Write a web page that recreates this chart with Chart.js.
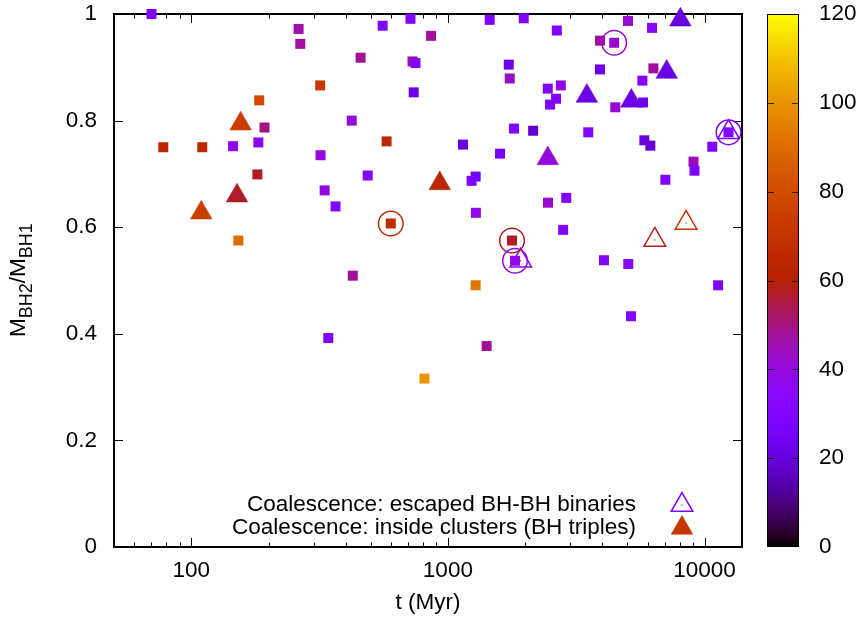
<!DOCTYPE html>
<html><head><meta charset="utf-8">
<script src="https://cdn.jsdelivr.net/npm/chart.js@4.4.1/dist/chart.umd.min.js"></script>
<style>html,body{margin:0;padding:0;background:#fff}#wrap{width:858px;height:621px}</style>
</head><body><div id="wrap"><canvas id="c" width="858" height="621"></canvas></div>
<script>
// ---- data: squares (all binaries), t in Myr, q = M_BH2/M_BH1, colour value
const sqT = [70,262,266,457,557,715,860,728,748,318,184,736,193,77.8,110.4,145.5,182.6,422,577,319,487,181,331,365,599,152.6,426,
  1455,1975,2658,5034,6246,3917,4447,1727,1742,3914,6322,5727,2451,2755,2640,2501,5760,4490,1811,2149,3524,12406,10720,1145,5830,6152,1597,9061,9141,1283,1237,7040,2456,2893,1286,2813,1778,1827,4057,5047,342,811,1283,11300,5172,1416];
const sqQ = [1.0,0.972,0.944,0.918,0.978,0.991,0.959,0.911,0.908,0.866,0.838,0.853,0.787,0.750,0.750,0.752,0.759,0.800,0.761,0.735,0.697,0.699,0.669,0.639,0.607,0.575,0.509,
  0.989,0.992,0.969,0.987,0.974,0.950,0.946,0.905,0.879,0.896,0.898,0.875,0.860,0.866,0.841,0.830,0.834,0.825,0.785,0.781,0.778,0.778,0.751,0.755,0.763,0.753,0.738,0.723,0.706,0.695,0.687,0.689,0.646,0.655,0.627,0.595,0.575,0.537,0.538,0.531,0.392,0.316,0.491,0.491,0.433,0.377];
const sqV = [30,46,47,48,30,32,47,47,30,72,78,22,50,65,65,38,38,40,65,40,33,57,40,30,67,90,48,
  30,30,30,42,32,47,42,22,43,22,47,32,30,40,30,30,22,42,30,18,30,30,30,20,20,18,28,44,30,25,30,30,42,30,38,30,57,38,30,35,30,100,93,30,30,48];
// circled binaries
const ciT = [599,4447,12406,1778,1827];
const ciQ = [0.607,0.946,0.778,0.575,0.537];
const ciV = [67,42,30,57,38];
// coalescence: escaped BH-BH binaries (open triangles)
const otT = [12406,1923,6402,8477];
const otQ = [0.778,0.537,0.576,0.608];
const otV = [30,38,58,70];
// coalescence: inside clusters (filled triangles)
const ftT = [155.8,150.8,109.4,930,8054,7124,3481,5188,2451];
const ftQ = [0.794,0.659,0.627,0.682,0.989,0.891,0.846,0.837,0.729];
const ftV = [75,57,75,64,20,21,21,21,40];
// ticks and labels
const xTicks = [100,1000,10000];
const yTicks = [0,0.2,0.4,0.6,0.8,1];
const cbTicks = [0,20,40,60,80,100,120];
const legendLabels = ['Coalescence: escaped BH-BH binaries','Coalescence: inside clusters (BH triples)'];
const legendValues = [30,72];

const FONT = '"Liberation Sans", Arial, sans-serif';
const FS = 22.5;
function pal(v){
  const x = Math.min(1, Math.max(0, v/120));
  const r = Math.sqrt(x), g = x*x*x, b = Math.max(0, Math.sin(2*Math.PI*x));
  return 'rgb(' + Math.round(r*255) + ',' + Math.round(g*255) + ',' + Math.round(b*255) + ')';
}
const pts = (T,Q) => T.map((t,i)=>({x:t,y:Q[i]}));

const framePlugin = {
  id:'frame',
  beforeDatasetsDraw(chart){
    const {ctx, chartArea:a, scales:{x,y}} = chart;
    ctx.save();
    ctx.strokeStyle = '#000'; ctx.lineWidth = 1;
    const minors = [];
    for (let d=10; d<=10000; d*=10) for (let k=2;k<=9;k++){ const v=d*k; if (v>=50 && v<=14000) minors.push(v); }
    ctx.beginPath();
    minors.forEach(v=>{ const px=Math.round(x.getPixelForValue(v))+0.5;
      ctx.moveTo(px,a.bottom); ctx.lineTo(px,a.bottom-4.5); ctx.moveTo(px,a.top); ctx.lineTo(px,a.top+4.5); });
    xTicks.forEach(v=>{ const px=Math.round(x.getPixelForValue(v))+0.5;
      ctx.moveTo(px,a.bottom); ctx.lineTo(px,a.bottom-9); ctx.moveTo(px,a.top); ctx.lineTo(px,a.top+9); });
    yTicks.forEach(v=>{ const py=Math.round(y.getPixelForValue(v))+0.5;
      ctx.moveTo(a.left,py); ctx.lineTo(a.left+9,py); ctx.moveTo(a.right,py); ctx.lineTo(a.right-9,py); });
    ctx.stroke();
    ctx.lineWidth = 2;
    ctx.strokeRect(a.left, a.top, a.right-a.left, a.bottom-a.top);
    ctx.restore();
  },
  afterDraw(chart){
    const {ctx, chartArea:a} = chart;
    ctx.save();
    ctx.fillStyle = '#000';
    ctx.font = FS + 'px ' + FONT; ctx.textAlign='center'; ctx.textBaseline='middle';
    ctx.fillText('t (Myr)', (a.left+a.right)/2, 603);
    // y title with subscripts
    ctx.save();
    ctx.translate(25, 337); ctx.rotate(-Math.PI/2);
    ctx.textAlign='left'; ctx.textBaseline='alphabetic';
    let cx = 0;
    const big = FS + 'px ' + FONT, small = Math.round(FS*0.8) + 'px ' + FONT;
    const parts = [['M',big,0],['BH2',small,7],['/M',big,0],['BH1',small,7]];
    parts.forEach(p=>{ ctx.font=p[1]; ctx.fillText(p[0], cx, p[2]); cx += ctx.measureText(p[0]).width; });
    ctx.restore();
    // colour box
    const bx0=767, bx1=799, by0=a.top, by1=a.bottom;
    const grad = ctx.createLinearGradient(0, by1, 0, by0);
    for (let i=0;i<=60;i++){ grad.addColorStop(i/60, pal(120*i/60)); }
    ctx.fillStyle = grad; ctx.fillRect(bx0, by0, bx1-bx0, by1-by0);
    ctx.strokeStyle = '#000'; ctx.lineWidth = 1;
    ctx.strokeRect(bx0+0.5, by0+0.5, bx1-bx0-1, by1-by0-1);
    ctx.font = FS + 'px ' + FONT; ctx.textAlign='left'; ctx.textBaseline='middle'; ctx.fillStyle='#000';
    ctx.beginPath();
    cbTicks.forEach(v=>{
      const py = by1 - v/120*(by1-by0);
      if (v>0 && v<120){ const yy=Math.round(py)+0.5; ctx.moveTo(bx0,yy); ctx.lineTo(bx0+7,yy); ctx.moveTo(bx1,yy); ctx.lineTo(bx1-7,yy); }
      ctx.fillText(String(v), 819, py);
    });
    ctx.strokeStyle='rgba(0,0,0,0.75)'; ctx.stroke();
    // legend
    ctx.textAlign='right'; ctx.fillStyle='#000';
    const ly=[505,528];
    legendLabels.forEach((s,i)=>ctx.fillText(s, 636, ly[i]));
    ctx.strokeStyle = pal(legendValues[0]); ctx.lineWidth=1.5; ctx.fillStyle='rgba(0,0,0,0)';
    Chart.helpers.drawPoint(ctx, {pointStyle:'triangle', radius:12.5, rotation:0, borderWidth:1.5}, 682, 505);
    ctx.fillStyle = pal(legendValues[0]); ctx.fillRect(681.5,504.5,1.2,1.2);
    ctx.fillStyle = pal(legendValues[1]); ctx.strokeStyle = pal(legendValues[1]); ctx.lineWidth=0.5;
    Chart.helpers.drawPoint(ctx, {pointStyle:'triangle', radius:12.5, rotation:0, borderWidth:0.5}, 682, 528);
    ctx.restore();
  }
};

new Chart(document.getElementById('c'), {
  type:'scatter',
  data:{ datasets:[
    { data:pts(otT,otQ), pointStyle:'circle', pointRadius:0.7, backgroundColor:otV.map(pal), borderWidth:0, order:0, clip:false },
    { data:pts(ciT,ciQ), pointStyle:'circle', pointRadius:12.3, backgroundColor:'rgba(0,0,0,0)', borderColor:ciV.map(pal), borderWidth:1.5, order:1, clip:false },
    { data:pts(otT,otQ), pointStyle:'triangle', pointRadius:12.5, backgroundColor:'rgba(0,0,0,0)', borderColor:otV.map(pal), borderWidth:1.5, order:1, clip:false },
    { data:pts(sqT,sqQ), pointStyle:'rect', pointRadius:7.07, backgroundColor:sqV.map(pal), borderWidth:0, order:2, clip:false },
    { data:pts(ftT,ftQ), pointStyle:'triangle', pointRadius:12.5, backgroundColor:ftV.map(pal), borderColor:ftV.map(pal), borderWidth:0.5, order:3, clip:false }
  ]},
  options:{
    responsive:false, animation:false, events:[],
    layout:{ padding:{ left:0, right:116, top:13, bottom:0 } },
    plugins:{ legend:{display:false}, tooltip:{enabled:false} },
    scales:{
      x:{ type:'logarithmic', min:50, max:14000,
        afterBuildTicks:s=>{ s.ticks = xTicks.map(v=>({value:v, major:true})); },
        afterFit:s=>{ s.height = 74; s.paddingLeft = 0; s.paddingRight = 0; },
        grid:{display:false, drawTicks:false}, border:{display:false},
        ticks:{ callback:v=>String(v), color:'#000', font:{family:FONT,size:FS}, padding:10, maxRotation:0, autoSkip:false } },
      y:{ type:'linear', min:0, max:1,
        afterBuildTicks:s=>{ s.ticks = yTicks.map(v=>({value:v})); },
        afterFit:s=>{ s.width = 114; s.paddingTop = 0; s.paddingBottom = 0; },
        grid:{display:false, drawTicks:false}, border:{display:false},
        ticks:{ callback:v=>String(v), color:'#000', font:{family:FONT,size:FS}, padding:17 } }
    }
  },
  plugins:[framePlugin]
});
</script></body></html>
